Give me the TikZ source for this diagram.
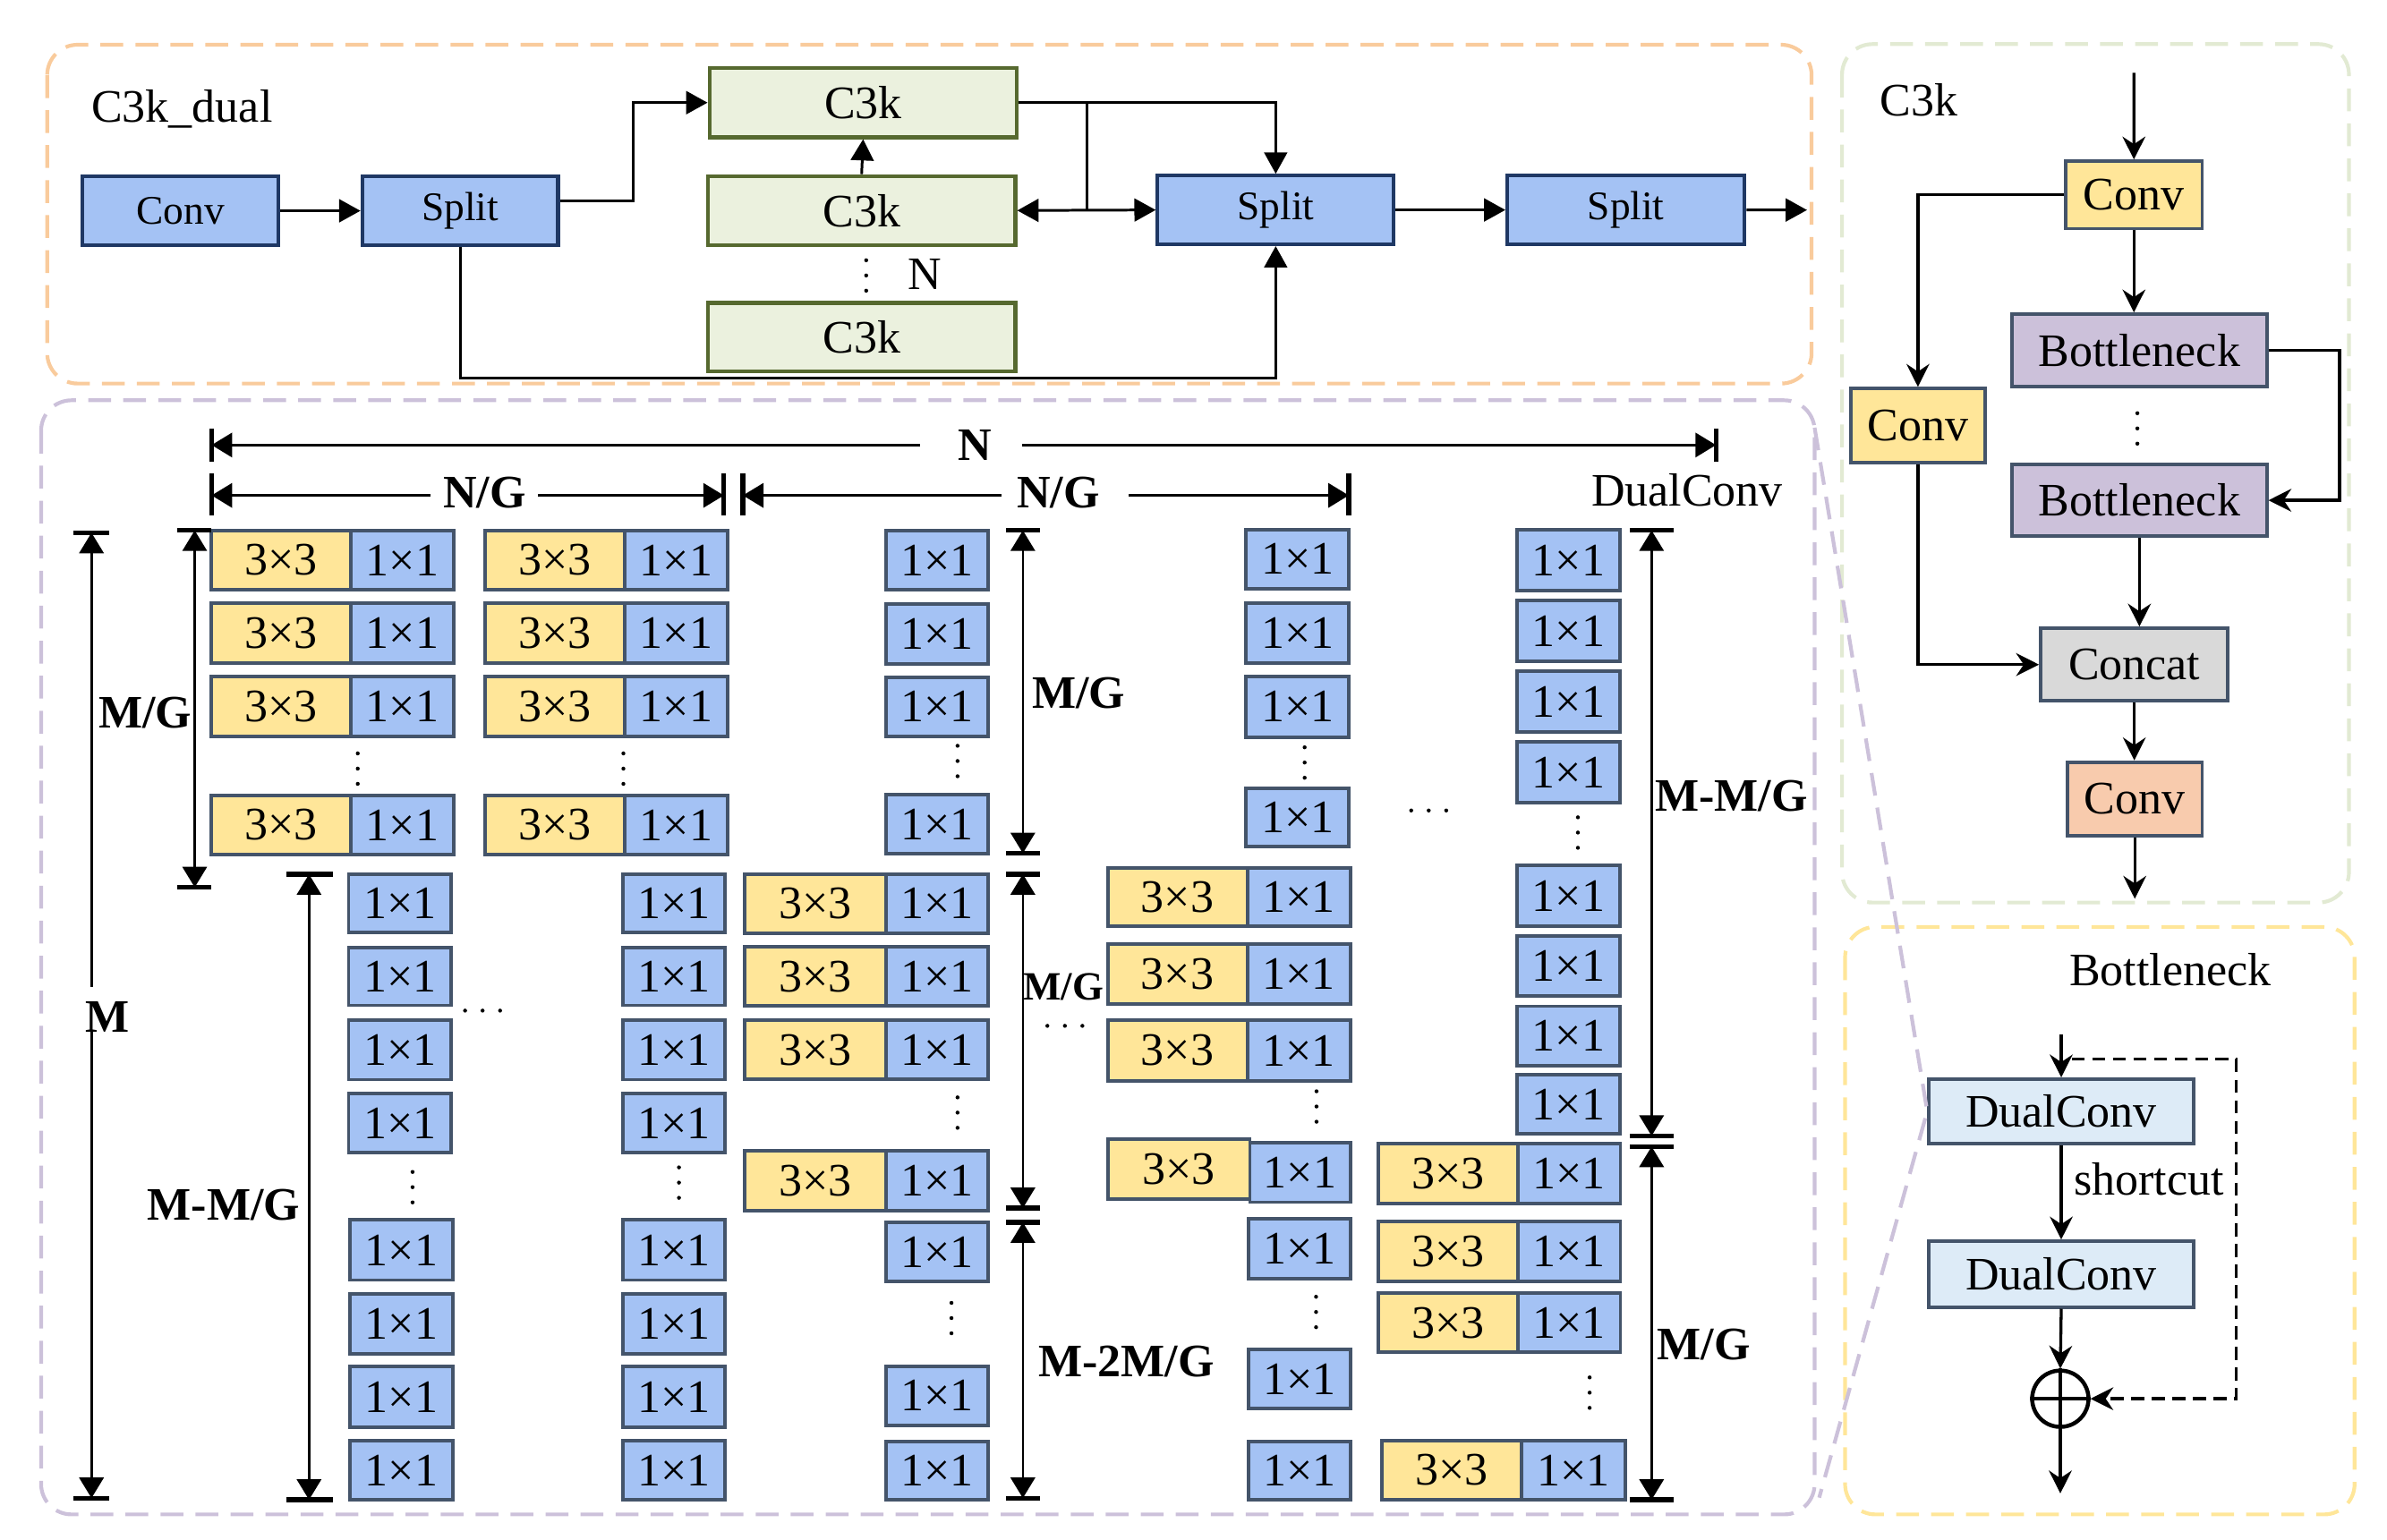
\documentclass[tikz,border=0pt]{standalone}
\usepackage{fontspec}
\setmainfont{Liberation Serif}
\usetikzlibrary{arrows.meta,calc}
\definecolor{bluef}{HTML}{A4C2F4}
\definecolor{yelf}{HTML}{FFE699}
\definecolor{bord}{HTML}{44546A}
\definecolor{navyb}{HTML}{1F3864}
\definecolor{oliveb}{HTML}{56692F}
\definecolor{greenf}{HTML}{EBF1DE}
\definecolor{purf}{HTML}{CCC1DA}
\definecolor{grayf}{HTML}{D9D9D9}
\definecolor{orgf}{HTML}{F8CBAD}
\definecolor{dcf}{HTML}{DDEBF7}
\definecolor{orgp}{HTML}{F9CB9C}
\definecolor{purp}{HTML}{CCC1DA}
\definecolor{grnp}{HTML}{E2EAD3}
\definecolor{yelp}{HTML}{FFE699}
\newcommand\myfs{\fontsize{17.4}{20}\selectfont}
\newcommand\myfss{\fontsize{15.2}{18}\selectfont}
\newcommand\myfsm{\fontsize{15}{18}\selectfont}
\newcommand\bxat[7]{\pgfmathsetmacro\bxw{(#5-#3)*0.02}\pgfmathsetmacro\bxh{(#6-#4)*0.02}\node[#1, minimum width=\bxw cm, minimum height=\bxh cm] (#2) at ({(#3+#5)/2},{(#4+#6)/2}) {#7};}
\newcommand\ob[4]{\bxat{one}{#1}{#2}{#3}{#2+67.4}{#4}{1×1}}
\newcommand\pb[6]{\bxat{three}{#1a}{#2}{#5}{#3}{#6}{3×3}\bxat{one}{#1b}{#3}{#5}{#4}{#6}{1×1}}
\newcommand\vd[2]{\fill (#1,#2) circle[radius=1.3] (#1,#2+10) circle[radius=1.3] (#1,#2+20) circle[radius=1.3];}
\newcommand\hd[2]{\fill (#1,#2) circle[radius=1.3] (#1+11.5,#2) circle[radius=1.3] (#1+23,#2) circle[radius=1.3];}
\begin{document}
\begin{tikzpicture}[x=0.02cm,y=-0.02cm,
  bx/.style={draw=bord, line width=1.3pt, inner sep=0pt, font=\myfs},
  one/.style={bx, fill=bluef},
  three/.style={bx, fill=yelf},
  navy/.style={draw=navyb, line width=1.4pt, inner sep=0pt, fill=bluef, font=\myfss},
  greenb/.style={draw=oliveb, line width=1.4pt, inner sep=0pt, fill=greenf, font=\myfs},
  panel/.style={line width=1.4pt, dash pattern=on 0.3cm off 0.16cm, rounded corners=0.4cm},
  tarr/.style={line width=1pt, -{Triangle[length=0.28cm,width=0.3cm]}},
  tline/.style={line width=1pt},
  sarr/.style={line width=1.1pt, -{Stealth[length=0.3cm,width=0.3cm,inset=0.1cm]}},
  dimS/.style={line width=0.9pt, {Triangle[length=0.27cm,width=0.32cm]}-},
  dimE/.style={line width=0.9pt, -{Triangle[length=0.27cm,width=0.32cm]}},
  dimB/.style={line width=0.9pt, {Triangle[length=0.27cm,width=0.32cm]}-{Triangle[length=0.27cm,width=0.32cm]}},
  dimbar/.style={line width=1.8pt},
  lbl/.style={font=\myfs, inner sep=0pt},
  blbl/.style={font=\myfs\bfseries, inner sep=0pt},
]
\useasboundingbox (0,0) rectangle (1568,1011.8);

% ---------- panels ----------
\draw[panel, draw=orgp] (31,29.4) rectangle (1190,252);
\draw[panel, draw=purp] (27,263) rectangle (1192,995);
\draw[panel, draw=grnp] (1210,29) rectangle (1543,593);
\draw[panel, draw=yelp] (1212,609) rectangle (1546.7,995);

% ---------- C3k_dual ----------
\node[lbl, anchor=base west] (t1) at (59.8,80.4) {C3k\_dual};
\bxat{navy}{conv}{54}{116}{183}{161}{Conv}
\bxat{navy}{s1}{238}{116}{366.6}{161}{Split}
\bxat{greenb}{ct}{466}{44.7}{668}{90.2}{C3k}
\bxat{greenb}{cm}{465}{115.6}{667}{161}{C3k}
\bxat{greenb}{cb}{465}{199}{667}{244}{C3k}
\bxat{navy}{s2}{760.4}{115.4}{915.6}{160.5}{Split}
\bxat{navy}{s3}{990.1}{115.4}{1146}{160.5}{Split}
\vd{569}{171}
\node[lbl, anchor=base west] (nlab) at (596,190.1) {N};
\coordinate (s3out) at (1187,138);
\coordinate (jx) at (714.3,67.45);

\draw[tarr] (conv.east) -- (s1.west);
\draw[tarr] ($(s1.east)+(0,-6.5)$) -- ++(48,0) |- (ct.west);
\draw[tarr] (cm.north) -- (ct.south);
\draw[tarr] (ct.east) -| (s2.north);
\draw[tline] (jx) -- (jx |- cm.east);
\draw[line width=1pt, {Triangle[length=0.28cm,width=0.3cm]}-{Triangle[length=0.28cm,width=0.3cm]}] (cm.east) -- (s2.west);
\draw[tarr] (s1.south) -- ++(0,86) -| (s2.south);
\draw[tarr] (s2.east) -- (s3.west);
\draw[tarr] (s3.east) -- (s3out);

% ---------- C3k panel ----------
\node[lbl, anchor=base west] (t2) at (1234.5,76.4) {C3k};
\bxat{bx, fill=yelf}{rc1}{1356.9}{105.9}{1446.6}{150.2}{Conv}
\bxat{bx, fill=purf}{rb1}{1321.7}{206.4}{1489}{254.2}{Bottleneck}
\bxat{bx, fill=purf}{rb2}{1321.7}{305}{1489}{352.4}{Bottleneck}
\bxat{bx, fill=yelf}{rc2}{1215.6}{255.3}{1304.1}{303.9}{Conv}
\bxat{bx, fill=grayf}{rcat}{1340.5}{412.8}{1463.5}{460.5}{Concat}
\bxat{bx, fill=orgf}{rc3}{1358}{500.7}{1446.6}{549.2}{Conv}
\vd{1404}{271.5}
\coordinate (rin) at (1401.7,47.8);
\coordinate (rout) at (1402.3,590.5);
\draw[sarr] (rin) -- (rc1.north);
\draw[sarr] (rc1.south) -- (rc1.south |- rb1.north);
\draw[sarr] (rb1.east) -- ++(46.7,0) |- (rb2.east);
\draw[sarr] (rc1.west) -| (rc2.north);
\draw[sarr] (rc2.south) |- (rcat.west);
\draw[sarr] (rb2.south) -- (rb2.south |- rcat.north);
\draw[sarr] (rcat.south) -- (rcat.south |- rc3.north);
\draw[sarr] (rc3.south) -- (rout);

% ---------- Bottleneck panel ----------
\node[lbl, anchor=base west] (t3) at (1359,647.4) {Bottleneck};
\bxat{bx, fill=dcf}{dc1}{1267.1}{709}{1440.9}{751.4}{DualConv}
\bxat{bx, fill=dcf}{dc2}{1267.1}{815.5}{1440.9}{858.7}{DualConv}
\node (plus) [circle, draw, line width=1.5pt, minimum size=0.74cm, inner sep=0pt] at (1353.4,919) {};
\draw[line width=1.5pt] (plus.north) -- (plus.south) (plus.west) -- (plus.east);
\node[lbl, anchor=base west] (sc) at (1362,785.2) {shortcut};
\coordinate (bin) at (1354,679.8);
\coordinate (bout) at (1353.4,981.2);
\coordinate (scA) at (1360.9,696);
\coordinate (scB) at (1468.9,696);
\draw[sarr] (bin) -- (dc1.north);
\draw[sarr] (dc1.south) -- (dc2.north);
\draw[sarr] (dc2.south) -- (plus.north);
\draw[sarr] (plus.south) -- (bout);
\draw[sarr, dash pattern=on 0.17cm off 0.1cm] (scA) -- (scB) |- (plus.east);

% zoom lines
\coordinate (zA) at (1192,281);
\coordinate (zB) at (1195,984);
\draw[line width=1.4pt, draw=purp, dash pattern=on 0.3cm off 0.16cm] (zA) -- (dc1.west) -- (zB);

% ---------- DualConv grid ----------
\node[lbl, anchor=base west] (t4) at (1045,332.2) {DualConv};

% column 1 & 2 pairs
\pb{p1r1}{139}{230.5}{298}{348.5}{387.5}
\pb{p1r2}{139}{230.5}{298}{396.5}{435.5}
\pb{p1r3}{139}{230.5}{298}{444.5}{484}
\pb{p1r4}{139}{230.5}{298}{522.5}{561.5}
\pb{p2r1}{318.4}{410.5}{478}{348.5}{387.5}
\pb{p2r2}{318.4}{410.5}{478}{396.5}{435.5}
\pb{p2r3}{318.4}{410.5}{478}{444.5}{484}
\pb{p2r4}{318.4}{410.5}{478}{522.5}{561.5}
\vd{235}{495}
\vd{409.5}{495}
% column 1 & 2 lower
\ob{a1}{229}{574.4}{612.5}
\ob{a2}{229}{622.4}{660.5}
\ob{a3}{229}{670.4}{709.3}
\ob{a4}{229}{718.4}{757.3}
\ob{a5}{230}{801.5}{841}
\ob{a6}{230}{850}{889.5}
\ob{a7}{230}{898}{937.7}
\ob{a8}{230}{946.5}{985.4}
\ob{b1}{409}{574.4}{612.5}
\ob{b2}{409}{622.4}{660.5}
\ob{b3}{409}{670.4}{709.3}
\ob{b4}{409}{718.4}{757.3}
\ob{b5}{409}{801.5}{841}
\ob{b6}{409}{850}{889.5}
\ob{b7}{409}{898}{937.7}
\ob{b8}{409}{946.5}{985.4}
\vd{271}{770}
\vd{446}{767}
\hd{305.5}{664}

% column 3
\ob{c1}{581.9}{348.5}{387.4}
\ob{c2}{581.9}{397}{436.4}
\ob{c3}{581.9}{444.8}{483.7}
\ob{c4}{581.9}{522.3}{561.1}
\vd{629}{490}
\pb{p3r1}{489.2}{581.9}{649.3}{574.3}{613}
\pb{p3r2}{489.2}{581.9}{649.3}{622}{660.9}
\pb{p3r3}{489.2}{581.9}{649.3}{670.4}{709.1}
\pb{p3r4}{489.2}{581.9}{649.3}{756.1}{795.2}
\vd{629}{721}
\ob{c5}{581.9}{803.1}{841.8}
\ob{c6}{581.9}{897.6}{936.5}
\ob{c7}{581.9}{947}{985.4}
\vd{625}{856}
\hd{688}{674}

% column 4
\ob{d1}{818.6}{347.8}{386.8}
\ob{d2}{818.6}{396.3}{435.7}
\ob{d3}{818.6}{444.5}{484.2}
\ob{d4}{818.6}{517.8}{556.4}
\vd{857}{491}
\pb{p4r1}{727.6}{819.4}{887}{570.3}{608.4}
\pb{p4r2}{727.6}{819.4}{887}{620.2}{659.6}
\pb{p4r3}{727.6}{819.4}{887}{670.4}{710}
\vd{864.8}{717}
\bxat{three}{p4r4a}{727.6}{748.4}{821}{788}{3×3}
\bxat{one}{p4r4b}{821}{750.8}{887}{789.9}{1×1}
\ob{d5}{820}{800.8}{840}
\ob{d6}{820}{886.5}{925.6}
\ob{d7}{820}{947}{985.4}
\vd{864.5}{852}
\hd{927}{532.5}

% column 5
\ob{e1}{996.6}{348}{387.9}
\ob{e2}{996.6}{394.4}{434.6}
\ob{e3}{996.6}{441.2}{481}
\ob{e4}{996.6}{487.6}{527.5}
\vd{1036.5}{537}
\ob{e5}{996.6}{568.5}{608.4}
\ob{e6}{996.6}{615}{654.3}
\ob{e7}{996.6}{661.1}{700.2}
\ob{e8}{996.6}{706.1}{745}
\pb{p5r1}{905.4}{997}{1064.4}{751.5}{790.6}
\pb{p5r2}{905.4}{997}{1064.4}{802.7}{841.8}
\pb{p5r3}{905.4}{997}{1064.4}{849.7}{888.3}
\vd{1044.2}{905}
\pb{p5r4}{907.7}{999.3}{1067.5}{946.5}{985.4}

% ---------- dimensions ----------
% N
\coordinate (Nl) at (139,292.4); \coordinate (Nga) at (604.2,292.4);
\coordinate (Ngb) at (671.6,292.4); \coordinate (Nr) at (1127.2,292.4);
\draw[dimS] (Nl) -- (Nga);
\draw[dimE] (Ngb) -- (Nr);
\draw[dimbar] (139,281.6) -- (139,303.4) (1127.2,281.6) -- (1127.2,303.4);
\node[blbl, anchor=base] (NL) at (640.6,302.6) {N};
% N/G 1
\coordinate (G1l) at (139,325.5); \coordinate (G1a) at (283,325.5);
\coordinate (G1b) at (353.5,325.5); \coordinate (G1r) at (475.5,325.5);
\draw[dimS] (G1l) -- (G1a);
\draw[dimE] (G1b) -- (G1r);
\draw[dimbar] (139,311) -- (139,338.5) (475.5,311) -- (475.5,338.5);
\node[blbl, anchor=base] (G1L) at (318.3,333.8) {N/G};
% N/G 2
\coordinate (G2l) at (488,325.5); \coordinate (G2a) at (658,325.5);
\coordinate (G2b) at (741.5,325.5); \coordinate (G2r) at (886,325.5);
\draw[dimS] (G2l) -- (G2a);
\draw[dimE] (G2b) -- (G2r);
\draw[dimbar] (488,311) -- (488,338.5) (886,311) -- (886,338.5);
\node[blbl, anchor=base] (G2L) at (695.2,333.5) {N/G};
% M
\coordinate (Mt) at (60.1,350); \coordinate (Ma) at (60.1,648.5);
\coordinate (Mb) at (60.1,678); \coordinate (Mbot) at (60.1,984.3);
\draw[dimS] (Mt) -- (Ma);
\draw[dimE] (Mb) -- (Mbot);
\draw[dimbar] (48,350) -- (72,350) (48,984.3) -- (72,984.3);
\node[blbl, anchor=base] (ML) at (70.8,678) {M};
% M/G left
\coordinate (L1t) at (127.9,348.5); \coordinate (L1b) at (127.9,583);
\draw[dimB] (L1t) -- (L1b);
\draw[dimbar] (116.5,348.5) -- (139,348.5) (116.5,583) -- (139,583);
\node[blbl, anchor=base] (L1L) at (95.5,478) {M/G};
% M-M/G left
\coordinate (L2t) at (203,574.4); \coordinate (L2b) at (203,985.4);
\draw[dimB] (L2t) -- (L2b);
\draw[dimbar] (188,574.4) -- (218.5,574.4) (188,985.4) -- (218.5,985.4);
\node[blbl, anchor=base] (L2L) at (147,801.5) {M-M/G};
% column 3 dims
\coordinate (K1t) at (671.9,348.5); \coordinate (K1b) at (671.9,560.6);
\coordinate (K2t) at (671.9,574.3); \coordinate (K2b) at (671.9,793.8);
\coordinate (K3t) at (671.9,803.1); \coordinate (K3b) at (671.9,984.3);
\draw[dimB] (K1t) -- (K1b);
\draw[dimB] (K2t) -- (K2b);
\draw[dimB] (K3t) -- (K3b);
\draw[dimbar] (661,348.5) -- (683,348.5) (661,560.6) -- (683,560.6)
  (661,574.3) -- (683,574.3) (661,793.8) -- (683,793.8)
  (661,803.1) -- (683,803.1) (661,984.3) -- (683,984.3);
\node[blbl, anchor=base] (K1L) at (708.6,465.3) {M/G};
\node[font=\myfsm\bfseries, inner sep=0pt, anchor=base] (K2L) at (698.6,657) {M/G};
\node[blbl, anchor=base] (K3L) at (740,904.6) {M-2M/G};
% column 5 dims
\coordinate (J1t) at (1084.9,348.5); \coordinate (J1b) at (1084.9,746.3);
\coordinate (J2t) at (1084.9,753.3); \coordinate (J2b) at (1084.9,985.4);
\draw[dimB] (J1t) -- (J1b);
\draw[dimB] (J2t) -- (J2b);
\draw[dimbar] (1070.5,348.5) -- (1099.3,348.5) (1070.5,746.3) -- (1099.3,746.3)
  (1070.5,753.3) -- (1099.3,753.3) (1070.5,985.4) -- (1099.3,985.4);
\node[blbl, anchor=base] (J1L) at (1137.2,532.8) {M-M/G};
\node[blbl, anchor=base] (J2L) at (1119.3,893.5) {M/G};
\end{tikzpicture}
\end{document}
